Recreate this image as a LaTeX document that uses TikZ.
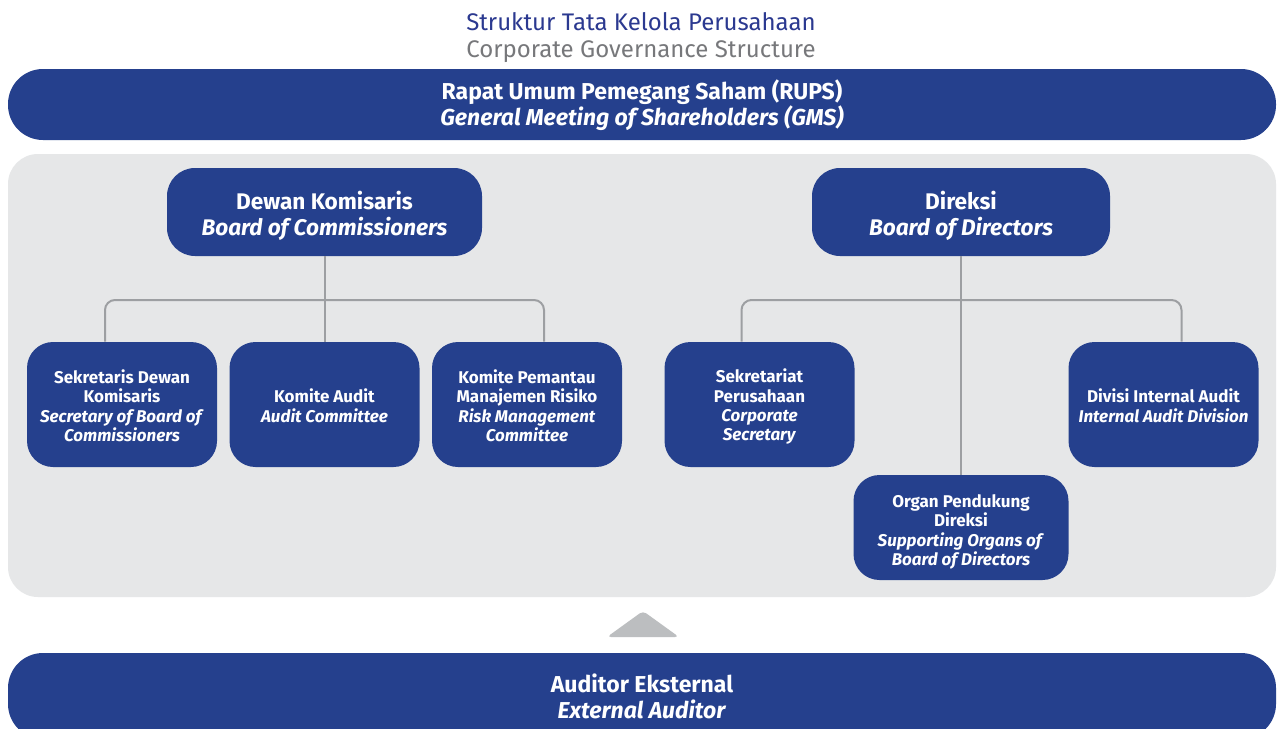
\documentclass[tikz,border=0pt]{standalone}
\usepackage{fontspec}
\setmainfont{Fira Sans}
\definecolor{navy}{RGB}{37,64,141}
\definecolor{titleblue}{RGB}{43,57,144}
\definecolor{subgrey}{RGB}{119,120,123}
\definecolor{panelgrey}{RGB}{230,231,232}
\definecolor{linegrey}{RGB}{157,159,162}
\definecolor{trigrey}{RGB}{188,190,192}

\begin{document}
\begin{tikzpicture}[x=0.5pt,y=-0.5pt,
 bar/.style={fill=navy,text=white,rounded corners=17.5pt,minimum width=634pt,align=center,inner sep=0pt,font=\fontsize{11.5}{13}\selectfont\bfseries},
 board/.style={fill=navy,text=white,rounded corners=14pt,minimum height=44pt,align=center,inner sep=0pt,text height=26pt,font=\fontsize{11.3}{13}\selectfont\bfseries},
 unit/.style={fill=navy,text=white,rounded corners=13pt,minimum width=95pt,minimum height=62.5pt,align=center,inner sep=0pt,text height=#1,font=\fontsize{8.5}{9.7}\selectfont\bfseries},
 unit/.default=37.3pt,
 link/.style={draw=linegrey,line width=1pt,rounded corners=5pt}]
 \useasboundingbox (0,0) rectangle (1278,728);
 \clip (0,0) rectangle (1278,728);
 \fill[white] (0,0) rectangle (1278,728);
 \node[anchor=base,text=titleblue,font=\fontsize{12}{13}\selectfont] (ttl) at (641,30) {Struktur Tata Kelola Perusahaan};
 \node[anchor=base,text=subgrey,font=\fontsize{12}{13}\selectfont] (sub) at (641,57) {Corporate Governance Structure};
 \node[bar,minimum height=35.5pt,text height=24pt] (rups) at (642,104.5) {Rapat Umum Pemegang Saham (RUPS)\\\textit{General Meeting of Shareholders (GMS)}};
 \fill[panelgrey,rounded corners=15pt] (8,154) rectangle (1276,597);
 \node[board,minimum width=157.5pt] (dk) at (324.5,212) {Dewan Komisaris\\\textit{Board of Commissioners}};
 \node[board,minimum width=149pt] (dir) at (961,212) {Direksi\\\textit{Board of Directors}};
 \coordinate (jk) at (324.5,300);
 \coordinate (jd) at (961,300);
 \node[unit] (sdk) at (122,404.5) {Sekretaris Dewan\\Komisaris\\\textit{Secretary of Board of}\\\textit{Commissioners}};
 \node[unit=17.9pt] (ka) at (324.5,404.5) {Komite Audit\\\textit{Audit Committee}};
 \node[unit] (kpmr) at (527,404.5) {Komite Pemantau\\Manajemen Risiko\\\textit{Risk Management}\\\textit{Committee}};
 \node[unit=38.3pt] (sp) at (759.5,404.5) {Sekretariat\\Perusahaan\\\textit{Corporate}\\\textit{Secretary}};
 \node[unit=17.9pt] (dia) at (1163.5,404.5) {Divisi Internal Audit\\\textit{Internal Audit Division}};
 \node[unit=39.8pt,minimum width=107.5pt,minimum height=52.5pt] (opd) at (961,527.5) {Organ Pendukung\\Direksi\\\textit{Supporting Organs of}\\\textit{Board of Directors}};
 \draw[link] (dk.south) -- (ka.north);
 \draw[link] ([xshift=-8.5pt]sdk.north) |- (jk) -| ([xshift=8.5pt]kpmr.north);
 \draw[link] (dir.south) -- (opd.north);
 \draw[link] ([xshift=-9pt]sp.north) |- (jd) -| ([xshift=9pt]dia.north);
 \fill[trigrey,rounded corners=2pt] (607,637) -- (643,611) -- (679,637) -- cycle;
 \node[bar,minimum height=43pt] (ae) at (642,696) {Auditor Eksternal\\\textit{External Auditor}};
\end{tikzpicture}
\end{document}
